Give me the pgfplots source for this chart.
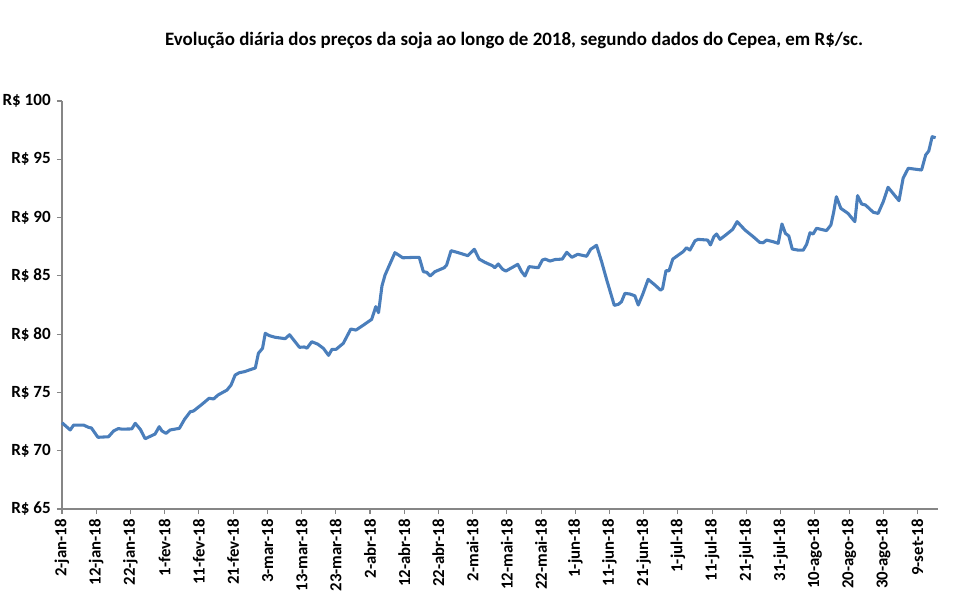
\documentclass[border=0pt]{standalone}
\usepackage{pgfplots}
\usepackage{pgfplotstable}
\pgfplotsset{compat=1.18}
\usepackage{fontspec}
\setmainfont{Carlito}

\definecolor{linhasoja}{HTML}{4A7EBB}
\definecolor{eixo}{HTML}{868686}

% dia (contado a partir de 2-jan-18) e preço em R$/sc
\pgfplotstableread{
dia preco
0 72.40
2.4 71.78
3.4 72.20
6.3 72.20
7.8 72.00
8.6 71.95
10.5 71.15
13.6 71.20
15.1 71.70
16.5 71.90
17.5 71.85
20.4 71.87
21.4 72.35
22.9 71.83
24.3 71.03
27.2 71.43
28.4 72.06
29.2 71.70
30.4 71.49
31.6 71.78
34.3 71.92
35.8 72.69
37.5 73.35
38.4 73.40
40.9 73.98
43.0 74.50
44.3 74.44
45.6 74.78
48.2 75.20
49.4 75.63
50.6 76.49
51.8 76.69
53.3 76.78
56.5 77.10
57.4 78.36
58.6 78.78
59.4 80.07
60.6 79.87
62.3 79.73
65.2 79.61
66.5 79.95
69.4 78.87
70.8 78.90
71.6 78.80
73.0 79.35
74.7 79.15
76.4 78.78
77.9 78.18
78.9 78.70
80.1 78.70
82.2 79.21
84.4 80.44
85.9 80.35
88.1 80.78
90.5 81.27
91.7 82.36
92.5 81.84
93.5 84.13
94.4 85.07
97.3 86.99
99.6 86.55
103.2 86.59
104.4 86.59
105.6 85.36
106.6 85.30
107.6 84.99
109.0 85.36
111.7 85.70
112.4 85.93
113.7 87.16
115.8 86.99
118.6 86.73
120.5 87.28
121.9 86.44
123.6 86.16
125.8 85.87
126.5 85.70
127.5 86.02
128.7 85.58
129.7 85.41
133.2 85.99
134.3 85.36
135.3 84.99
136.5 85.79
139.2 85.70
140.4 86.36
141.2 86.44
142.6 86.27
144.1 86.40
146.2 86.44
147.5 87.02
149.0 86.59
150.7 86.85
153.3 86.68
154.5 87.28
156.2 87.62
157.7 86.21
159.2 84.64
161.4 82.47
162.6 82.56
163.5 82.78
164.5 83.50
166.0 83.44
167.4 83.29
168.4 82.50
169.7 83.41
171.3 84.70
173.3 84.21
174.9 83.78
175.5 83.90
176.5 85.44
177.4 85.44
178.5 86.44
180.1 86.78
181.5 87.07
182.5 87.41
183.5 87.21
185.0 88.01
185.9 88.13
188.7 88.07
189.5 87.65
190.5 88.36
191.3 88.59
192.3 88.13
194.2 88.56
196.0 88.99
197.3 89.65
199.6 88.93
202.0 88.36
203.9 87.87
204.9 87.84
205.9 88.07
207.8 87.93
209.3 87.79
210.4 89.45
211.4 88.65
212.4 88.42
213.4 87.30
215.1 87.21
216.6 87.20
217.6 87.70
218.6 88.70
219.5 88.59
220.5 89.08
223.4 88.88
224.7 89.36
225.5 90.45
226.3 91.79
227.6 90.79
229.7 90.36
230.9 89.93
231.7 89.65
232.5 91.88
233.7 91.16
234.8 91.08
237.1 90.45
238.5 90.36
240.0 91.36
241.4 92.60
244.6 91.45
245.8 93.37
247.3 94.23
251.2 94.08
252.4 95.37
253.3 95.71
254.3 96.94
255.3 96.85
}\soja

\begin{document}
\begin{tikzpicture}[x=1pt,y=1pt]
\begin{axis}[
    at={(0,0)}, anchor=south west,
    scale only axis,
    width=657pt, height=306pt,
    xmin=0, xmax=256,
    ymin=65, ymax=100,
    axis x line*=bottom,
    axis y line*=left,
    axis line style={eixo, line width=0.8pt, -},
    tick style={eixo, line width=0.8pt},
    tick align=outside,
    major tick length=3.75pt,
    xtick={0,10,...,250},
    xticklabels={2-jan-18,12-jan-18,22-jan-18,1-fev-18,11-fev-18,21-fev-18,
      3-mar-18,13-mar-18,23-mar-18,2-abr-18,12-abr-18,22-abr-18,2-mai-18,
      12-mai-18,22-mai-18,1-jun-18,11-jun-18,21-jun-18,1-jul-18,11-jul-18,
      21-jul-18,31-jul-18,10-ago-18,20-ago-18,30-ago-18,9-set-18},
    xticklabel style={rotate=90, anchor=east, xshift=-0.5pt, font=\fontsize{12.6}{15}\selectfont\bfseries},
    ytick={65,70,...,100},
    yticklabels={R\$ 65,R\$ 70,R\$ 75,R\$ 80,R\$ 85,R\$ 90,R\$ 95,R\$ 100},
    yticklabel style={xshift=-1.2pt, font=\fontsize{12.8}{15}\selectfont\bfseries},
    clip=false,
]
\addplot[linhasoja, line width=2.3pt, line join=round] table[x=dia, y=preco] {\soja};
\end{axis}
\node[font=\fontsize{14.2}{17}\selectfont\bfseries] at (339pt,351.75pt)
  {Evolução diária dos preços da soja ao longo de 2018, segundo dados do Cepea, em R\$/sc.};
\pgfresetboundingbox
\path[use as bounding box] (-46.5pt,-63.75pt) rectangle (674.25pt,381.75pt);
\end{tikzpicture}
\end{document}
